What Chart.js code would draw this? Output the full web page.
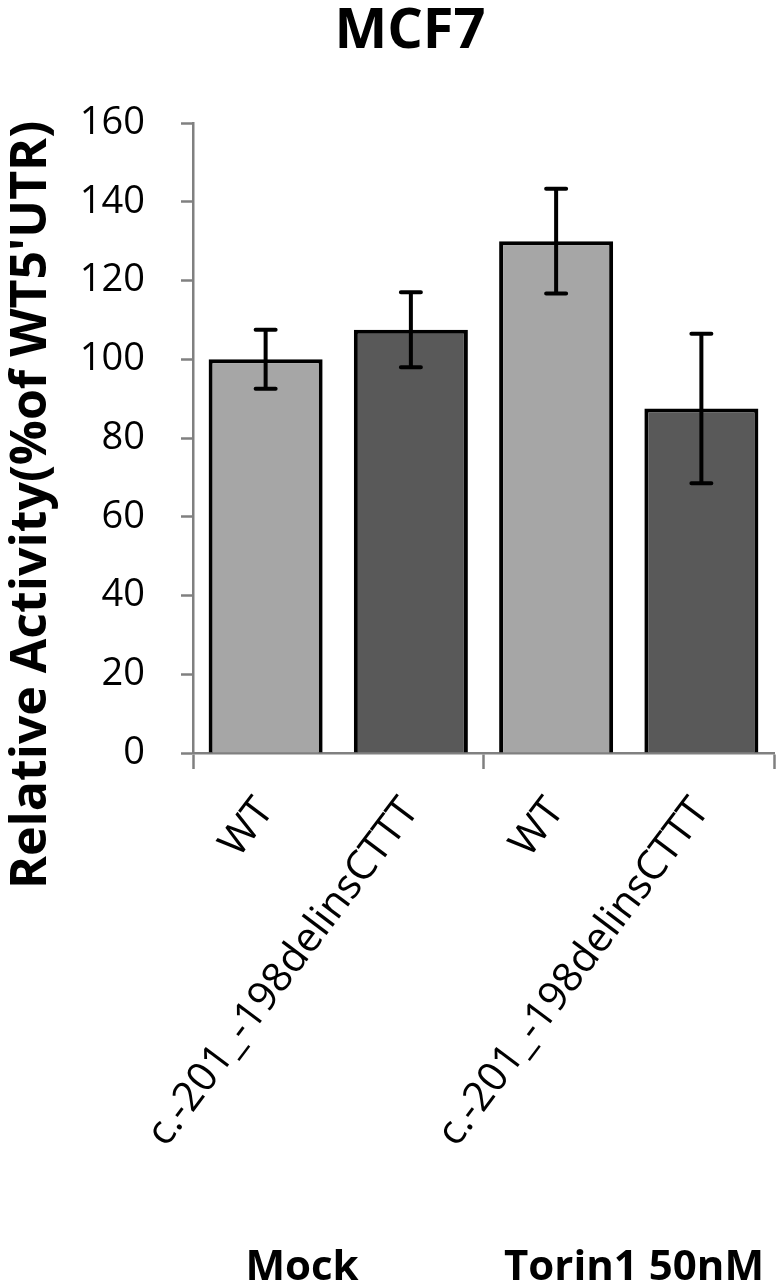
<!DOCTYPE html>
<html>
<head>
<meta charset="utf-8">
<script src="https://cdn.jsdelivr.net/npm/chart.js@4"></script>
<style>
  html, body { margin: 0; padding: 0; background: #fff; }
  #wrap { width: 780px; height: 1287px; position: relative; }
</style>
</head>
<body>
<div id="wrap"><canvas id="chart"></canvas></div>
<script>
const categories = ["WT", "c.-201_-198delinsCTTT", "WT", "c.-201_-198delinsCTTT"];
const groups = ["Mock", "Torin1 50nM"];
const values = [100, 107.5, 130, 87.5];
const errors = [7.5, 9.5, 13.3, 19];
const barColors = ["#a6a6a6", "#595959", "#a6a6a6", "#595959"];
const title = "MCF7";
const yTitle = "Relative Activity(%of WT5'UTR)";

Chart.defaults.font.family = "'Open Sans', sans-serif";
Chart.defaults.color = "#000";

// error bars drawn from the y scale
const errorBars = {
  id: "errorBars",
  afterDatasetsDraw(chart) {
    const ctx = chart.ctx;
    const y = chart.scales.y;
    const meta = chart.getDatasetMeta(0);
    ctx.save();
    ctx.strokeStyle = "#000";
    ctx.lineWidth = 4;
    ctx.lineCap = "round";
    meta.data.forEach((bar, i) => {
      const top = y.getPixelForValue(values[i] + errors[i]);
      const bot = y.getPixelForValue(values[i] - errors[i]);
      ctx.beginPath();
      ctx.moveTo(bar.x, top);
      ctx.lineTo(bar.x, bot);
      ctx.moveTo(bar.x - 10, top);
      ctx.lineTo(bar.x + 10, top);
      ctx.moveTo(bar.x - 10, bot);
      ctx.lineTo(bar.x + 10, bot);
      ctx.stroke();
    });
    ctx.restore();
  }
};

// title, y axis title and group labels
const extraText = {
  id: "extraText",
  afterDraw(chart) {
    const ctx = chart.ctx;
    ctx.save();
    ctx.fillStyle = "#000";
    ctx.textAlign = "center";
    ctx.textBaseline = "alphabetic";

    ctx.font = "bold 56px 'Open Sans'";
    ctx.fillText(title, 410, 48);

    ctx.font = "bold 42px 'Open Sans'";
    ctx.fillText(groups[0], 302, 1280);
    ctx.fillText(groups[1], 634, 1280);

    ctx.translate(46, 505);
    ctx.rotate(-Math.PI / 2);
    ctx.font = "bold 50px 'Open Sans'";
    ctx.fillText(yTitle, 0, 0);
    ctx.restore();
  }
};

new Chart(document.getElementById("chart"), {
  type: "bar",
  data: {
    labels: categories,
    datasets: [
      {
        data: values,
        backgroundColor: barColors,
        borderColor: "#000",
        borderWidth: 4,
        barPercentage: 0.785,
        categoryPercentage: 1,
      },
    ],
  },
  options: {
    responsive: true,
    maintainAspectRatio: false,
    animation: false,
    layout: { padding: { top: 123, right: 6, left: 0, bottom: 0 } },
    plugins: {
      legend: { display: false },
      tooltip: { enabled: false },
    },
    scales: {
      x: {
        grid: {
          offset: true,
          drawOnChartArea: false,
          tickLength: 16,
          tickWidth: 2.5,
          tickColor: (c) => (c.index === undefined || c.index % 2 === 0 ? "#808080" : "rgba(0,0,0,0)"),
        },
        border: { color: "#808080", width: 2.5 },
        ticks: {
          font: { size: 41 },
          minRotation: 53,
          maxRotation: 53,
          padding: 20,
          autoSkip: false,
        },
        afterFit: (s) => { s.height = 534; },
      },
      y: {
        min: 0,
        max: 160,
        grid: { drawOnChartArea: false, tickLength: 12, tickWidth: 2.5, tickColor: "#808080" },
        border: { color: "#808080", width: 2.5 },
        ticks: { stepSize: 20, font: { size: 38 }, padding: 36 },
        afterFit: (s) => { s.width = 193; },
      },
    },
  },
  plugins: [errorBars, extraText],
});
</script>
</body>
</html>
